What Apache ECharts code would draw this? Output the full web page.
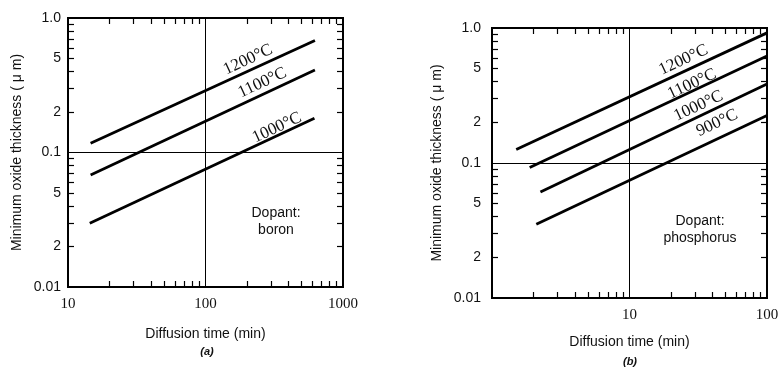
<!DOCTYPE html>
<html><head><meta charset="utf-8">
<script src="https://cdn.jsdelivr.net/npm/echarts@6/dist/echarts.min.js"></script>
<style>html,body{margin:0;padding:0;background:#fff}#c{width:782px;height:373px}</style>
</head><body><div id="c"></div>
<script>
// ---- data (a) boron ----
const tempsA = ['1200°C', '1100°C', '1000°C'];
const timeA = [[14.6, 625], [14.6, 625], [14.4, 620]];
const thickA = [[0.117, 0.68], [0.068, 0.41], [0.0298, 0.18]];
const labelPosA = [[204, 0.49], [259, 0.33], [331, 0.153]];
// ---- data (b) phosphorus ----
const tempsB = ['1200°C', '1100°C', '1000°C', '900°C'];
const timeB = [[1.5, 100], [1.88, 100], [2.25, 100], [2.1, 100]];
const thickB = [[0.126, 0.92], [0.0925, 0.62], [0.061, 0.385], [0.0352, 0.225]];
const labelPosB = [[24.7, 0.58], [28.5, 0.385], [31.8, 0.265], [43.3, 0.198]];
// ---- ticks ----
const yTickValues = [0.01, 0.02, 0.05, 0.1, 0.2, 0.5, 1];
const yTickLabels = ['0.01', '2', '5', '0.1', '2', '5', '1.0'];
const yMinorTicks = [0.02,0.03,0.04,0.05,0.06,0.07,0.08,0.09,0.2,0.3,0.4,0.5,0.6,0.7,0.8,0.9];
const xTickValuesA = [10, 100, 1000];
const xMinorTicksA = [20,30,40,50,60,70,80,90,200,300,400,500,600,700,800,900];
const xTickValuesB = [10, 100];
const xMinorTicksB = [2,3,4,5,6,7,8,9,20,30,40,50,60,70,80,90];

const yLab = v => { for (let i = 0; i < yTickValues.length; i++) if (Math.abs(v - yTickValues[i]) < 1e-9) return yTickLabels[i]; return ''; };

function xAxes(min, max, labels, minors, gi, nameGap) {
  return [
    { type: 'log', logBase: 10, min, max, gridIndex: gi, position: 'bottom',
      name: 'Diffusion time (min)', nameLocation: 'middle', nameGap,
      nameTextStyle: { fontFamily: 'Liberation Sans', fontSize: 14, color: '#111' },
      axisLine: { show: false },
      axisTick: { show: true, inside: true, length: 6, customValues: minors, lineStyle: { color: '#000', width: 1.2 } },
      axisLabel: { customValues: labels, margin: 10, fontFamily: 'Liberation Serif', fontSize: 15, color: '#111', formatter: v => String(Math.round(v)) },
      splitLine: { show: false } },
    { type: 'log', logBase: 10, min, max, gridIndex: gi, position: 'top',
      axisLine: { show: false },
      axisTick: { show: true, inside: true, length: 6, customValues: minors, lineStyle: { color: '#000', width: 1.2 } },
      axisLabel: { show: false }, splitLine: { show: false } }
  ];
}
function yAxes(gi, nameGap, margin) {
  return [
    { type: 'log', logBase: 10, min: 0.01, max: 1, gridIndex: gi, position: 'left',
      name: 'Minimum oxide thickness ( μ m)', nameLocation: 'middle', nameGap,
      nameTextStyle: { fontFamily: 'Liberation Sans', fontSize: 14, color: '#111' },
      axisLine: { show: false },
      axisTick: { show: true, inside: true, length: 6, customValues: yMinorTicks, lineStyle: { color: '#000', width: 1.2 } },
      axisLabel: { customValues: yTickValues, margin, fontFamily: 'Liberation Sans', fontSize: 14, color: '#111', formatter: yLab },
      splitLine: { show: false } },
    { type: 'log', logBase: 10, min: 0.01, max: 1, gridIndex: gi, position: 'right',
      axisLine: { show: false },
      axisTick: { show: true, inside: true, length: 6, customValues: yMinorTicks, lineStyle: { color: '#000', width: 1.2 } },
      axisLabel: { show: false }, splitLine: { show: false } }
  ];
}

function makeSeries(temps, times, thicks, labelPos, xi, yi, midX) {
  return temps.map((t, i) => {
    const s = {
      type: 'line', name: t, xAxisIndex: xi, yAxisIndex: yi,
      symbol: 'none', silent: true,
      lineStyle: { color: '#000', width: 2.8 },
      data: times[i].map((x, k) => [x, thicks[i][k]]),
      markPoint: {
        symbol: 'circle', symbolSize: 0, silent: true,
        label: { show: true, position: 'inside', formatter: '{b}', rotate: 25,
                 fontFamily: 'Liberation Serif', fontSize: 17, color: '#111' },
        data: [{ name: t, coord: labelPos[i] }]
      }
    };
    if (i === 0) {
      s.markLine = { symbol: 'none', silent: true, label: { show: false },
        lineStyle: { color: '#000', width: 1, type: 'solid' },
        data: [{ xAxis: midX }, { yAxis: 0.1 }] };
    }
    return s;
  });
}

const chart = echarts.init(document.getElementById('c'), null, { renderer: 'canvas' });
chart.setOption({
  animation: false,
  backgroundColor: '#fff',
  grid: [
    { left: 68, right: 439, top: 18, bottom: 86, show: true, borderColor: '#000', borderWidth: 2, backgroundColor: 'transparent' },
    { left: 492, right: 15, top: 28, bottom: 75, show: true, borderColor: '#000', borderWidth: 2, backgroundColor: 'transparent' }
  ],
  xAxis: [...xAxes(10, 1000, xTickValuesA, xMinorTicksA, 0, 40), ...xAxes(1, 100, xTickValuesB, xMinorTicksB, 1, 37)],
  yAxis: [...yAxes(0, 44, 7), ...yAxes(1, 48, 11)],
  series: [
    ...makeSeries(tempsA, timeA, thickA, labelPosA, 0, 0, 100),
    ...makeSeries(tempsB, timeB, thickB, labelPosB, 2, 2, 10)
  ],
  graphic: [
    { type: 'text', x: 276, y: 222, style: { text: 'Dopant:\nboron', align: 'center', verticalAlign: 'middle', font: '14px "Liberation Sans"', fill: '#111', lineHeight: 17 } },
    { type: 'text', x: 700, y: 230, style: { text: 'Dopant:\nphosphorus', align: 'center', verticalAlign: 'middle', font: '14px "Liberation Sans"', fill: '#111', lineHeight: 17 } },
    { type: 'text', x: 207, y: 352, style: { text: '(a)', align: 'center', verticalAlign: 'middle', font: 'italic bold 11px "Liberation Sans"', fill: '#111' } },
    { type: 'text', x: 630, y: 362, style: { text: '(b)', align: 'center', verticalAlign: 'middle', font: 'italic bold 11px "Liberation Sans"', fill: '#111' } }
  ]
});
</script>
</body></html>
